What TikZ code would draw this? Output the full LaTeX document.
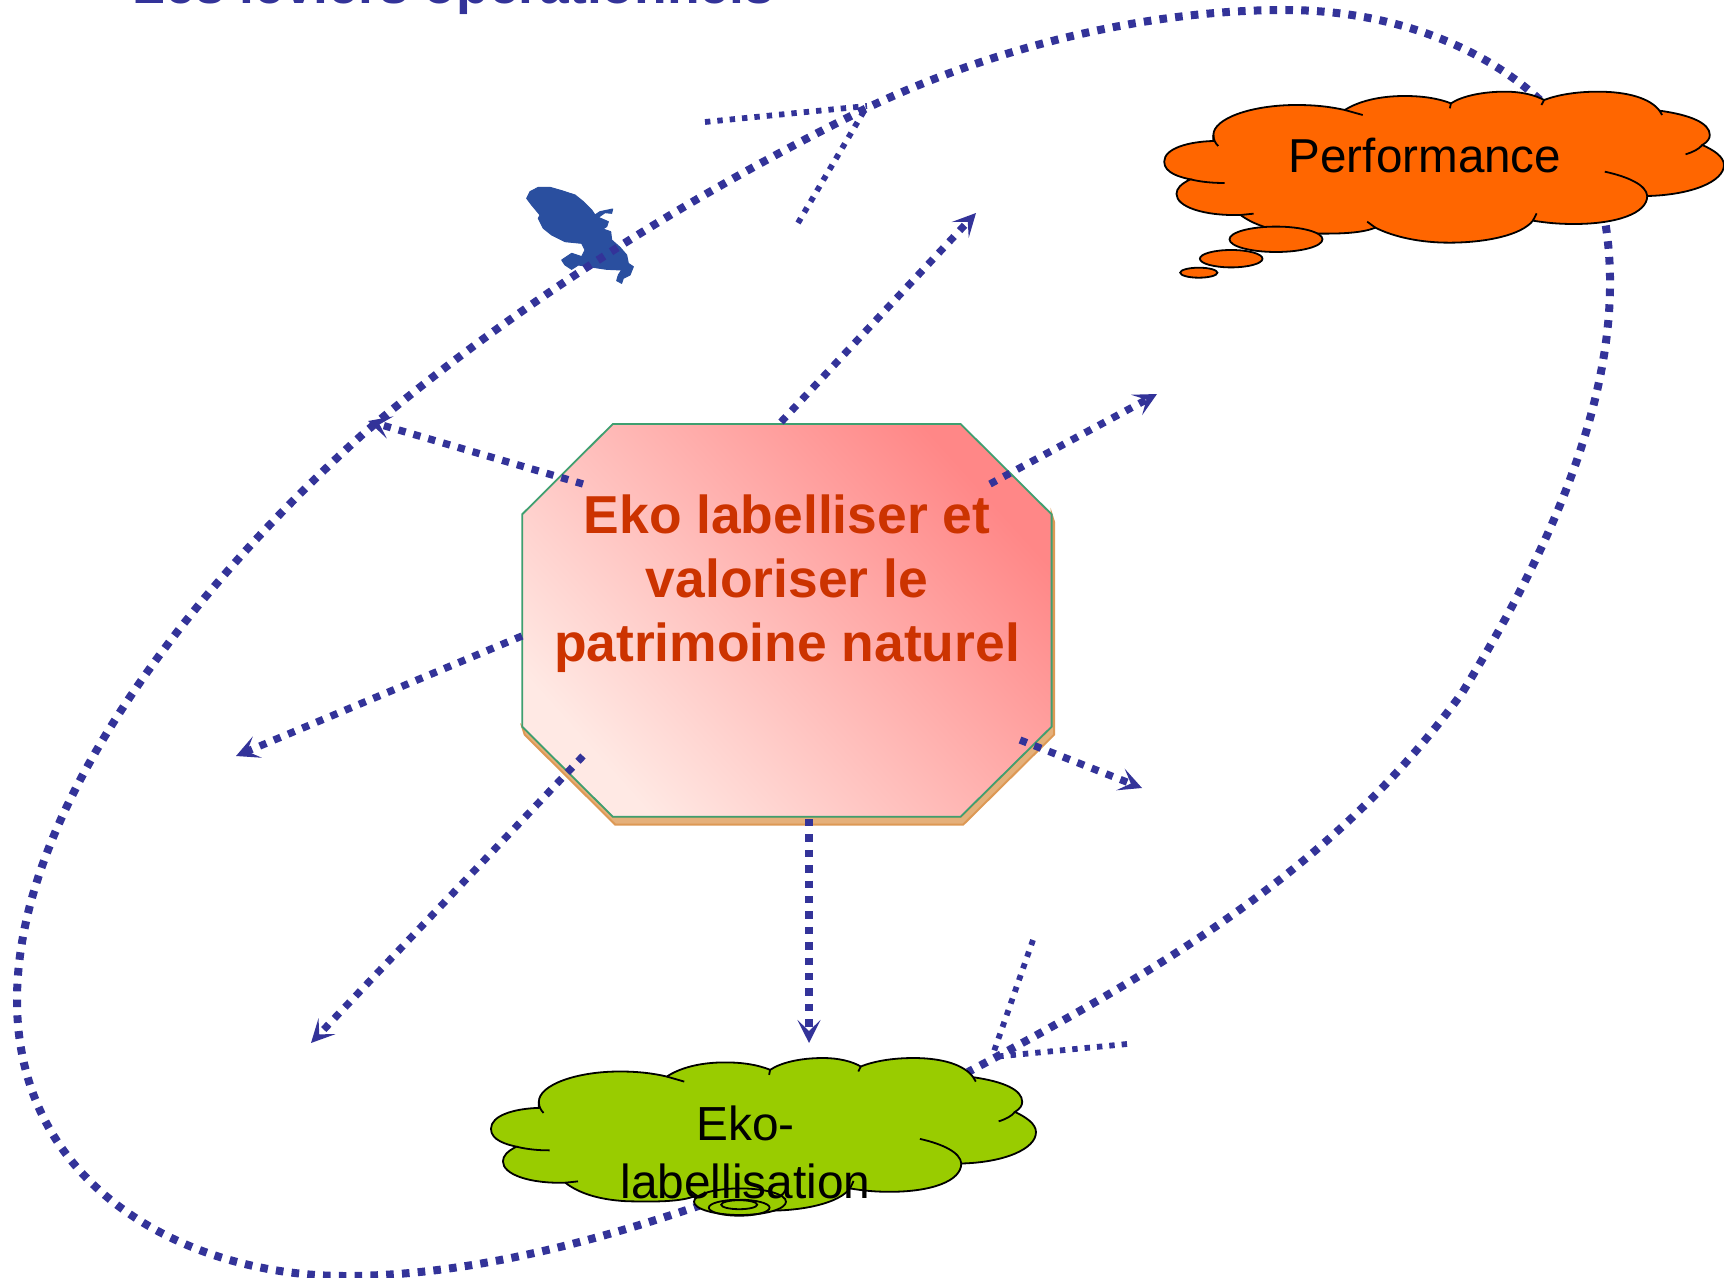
\documentclass[tikz,border=0pt]{standalone}
\usepackage{fontspec}
\setmainfont{Liberation Sans}
\usetikzlibrary{arrows.meta}
\definecolor{navyline}{HTML}{333399}
\definecolor{perforange}{HTML}{FF6600}
\definecolor{ekogreen}{HTML}{99CC00}
\definecolor{redtext}{HTML}{CC3300}
\definecolor{islandblue}{HTML}{2A4F9F}
\definecolor{octaedge}{HTML}{3F9F70}
\definecolor{shadowfill}{HTML}{E5B07A}
\definecolor{shadowedge}{HTML}{DD9955}
\definecolor{gradlow}{HTML}{FFE9E4}
\definecolor{gradhigh}{HTML}{FF8787}
\tikzset{
  curveline/.style={draw=navyline,line width=4pt,dash pattern=on 3.8pt off 4.1pt},
  thinline/.style={draw=navyline,line width=2.9pt,dash pattern=on 2.7pt off 3.5pt},
  arrowline/.style={draw=navyline,line width=3.65pt,dash pattern=on 3.65pt off 4.05pt,
    -{Stealth[length=11.5pt,width=11.5pt,inset=5.5pt,fill=navyline]}},
  cloudedge/.style={draw=black,line width=0.9pt}
}
\newcommand{\cloudoutline}[1]{%
  \path[fill=#1,cloudedge] (197,243)
    .. controls (130,245) and (65,265) .. (65,305)
    .. controls (65,340) and (110,352) .. (135,358)
    .. controls (110,372) and (98,385) .. (98,402)
    .. controls (98,440) and (170,468) .. (270,465)
    .. controls (300,490) and (350,515) .. (440,520)
    .. controls (520,522) and (590,522) .. (632,503)
    .. controls (680,530) and (750,548) .. (830,548)
    .. controls (930,548) and (1025,525) .. (1055,482)
    .. controls (1090,488) and (1120,492) .. (1165,492)
    .. controls (1280,492) and (1362,460) .. (1362,408)
    .. controls (1480,405) and (1568,365) .. (1568,315)
    .. controls (1568,290) and (1540,270) .. (1510,255)
    .. controls (1525,245) and (1530,235) .. (1530,225)
    .. controls (1530,190) and (1480,165) .. (1395,152)
    .. controls (1370,115) and (1310,95) .. (1230,95)
    .. controls (1170,95) and (1120,105) .. (1085,120)
    .. controls (1060,105) and (1025,95) .. (980,95)
    .. controls (920,95) and (865,108) .. (835,130)
    .. controls (800,115) and (760,108) .. (710,108)
    .. controls (640,108) and (585,125) .. (550,150)
    .. controls (510,140) and (470,135) .. (420,135)
    .. controls (300,135) and (197,175) .. (197,225)
    -- cycle;
  \path[cloudedge]
    (197,225) .. controls (197,240) and (203,250) .. (210,258)
    (135,358) .. controls (165,366) and (195,369) .. (227,369)
    (270,465) -- (305,461)
    (632,503) -- (610,485)
    (1055,482) -- (1065,460)
    (1362,408) .. controls (1360,375) and (1310,350) .. (1248,335)
    (1510,255) .. controls (1500,268) and (1485,276) .. (1465,283)
    (1395,152) -- (1402,165)
    (1085,120) -- (1078,135)
    (835,130) -- (832,145)
    (550,150) -- (598,165);
}
\begin{document}
\begin{tikzpicture}[x=0.5pt,y=-0.5pt]
\clip (0,0) rectangle (1724,1278);
\fill[white] (0,0) rectangle (1724,1278);

% title
\node[anchor=base,inner sep=0pt,text=navyline,font=\fontsize{26.7}{32}\selectfont\bfseries] (title) at (453.5,4) {Les leviers opérationnels};

% island
\begin{scope}[shift={(500,160)},x=0.16667pt,y=-0.16667pt]
\fill[islandblue,draw=islandblue,line width=0.5pt,line join=round]
 (80,115)--(90,95)--(115,82)--(150,82)--(185,92)--(225,105)--(250,125)--(275,150)--(285,165)--(300,155)--(338,147)--(335,160)--(315,158)--(295,172)--(325,185)--(320,200)--(308,207)--(332,215)--(335,240)--(360,262)--(380,285)--(385,310)--(400,320)--(390,345)--(370,355)--(365,370)--(350,362)--(355,345)--(365,330)--(320,328)--(280,322)--(235,315)--(215,328)--(195,315)--(185,300)--(215,280)--(245,290)--(255,270)--(245,250)--(195,245)--(155,225)--(130,205)--(115,175)--(120,165)--(95,135)--cycle;
\end{scope}

% named free ends
\coordinate (tipA) at (867,106);
\coordinate (thinA1) at (705,122);
\coordinate (thinA2) at (798,223);
\coordinate (tipB) at (992,1057);
\coordinate (thinB1) at (1127,1044);
\coordinate (thinB2) at (1033,940);
\coordinate (startA) at (1540,100);
\coordinate (endA) at (710,1202);
\coordinate (startB) at (1603,210);
\coordinate (endB) at (968,1072);

% large curves
\draw[curveline] (startA)
  .. controls (1475,40) and (1380,10) .. (1285,10)
  .. controls (1150,10) and (1000,45) .. (869,107)
  .. controls (700,190) and (520,300) .. (363,434)
  .. controls (190,590) and (17,810) .. (17,1000)
  .. controls (17,1190) and (190,1276) .. (345,1276)
  .. controls (470,1276) and (600,1240) .. (endA);
\draw[curveline] (startB)
  .. controls (1625,320) and (1600,470) .. (1462,693)
  .. controls (1340,860) and (1180,960) .. (endB);
\draw[thinline] (thinA1) -- (tipA);
\draw[thinline] (thinA2) -- (tipA);
\draw[thinline] (thinB1) -- (tipB);
\draw[thinline] (thinB2) -- (tipB);

% octagon
\path[fill=shadowfill,draw=shadowedge,line width=1pt] (615.3,824.7) -- (963.1,824.7) -- (1054.1,734.7) -- (1054.1,522.3) -- (1051.6,514.3) -- (1051.6,726.7) -- (960.6,816.7) -- (612.8,816.7) -- (522.2,726.7) -- (524.7,734.7) -- cycle;
\shade[shading=axis,top color=gradhigh,bottom color=gradlow,shading angle=-48,draw=octaedge,line width=0.9pt]
 (612.8,424) -- (960.6,424) -- (1051.6,514.3) -- (1051.6,726.7) -- (960.6,816.7) -- (612.8,816.7) -- (522.2,726.7) -- (522.2,514.3) -- cycle;
\coordinate (o1) at (781,422);
\coordinate (o2) at (990,484);
\coordinate (o3) at (583,484);
\coordinate (o4) at (522,636);
\coordinate (o5) at (583,756);
\coordinate (o6) at (809,819);
\coordinate (o7) at (1020,740);
\coordinate (e1) at (976,213);
\coordinate (e2) at (1157,394);
\coordinate (e3) at (368,421);
\coordinate (e4) at (236,756);
\coordinate (e5) at (311,1043);
\coordinate (e6) at (809,1043);
\coordinate (e7) at (1142,788);
\foreach \a/\b in {o1/e1,o2/e2,o3/e3,o4/e4,o5/e5,o6/e6,o7/e7}{\draw[arrowline] (\a) -- (\b);}

\node[align=center,inner sep=0pt,text=redtext,font=\fontsize{26.7}{32}\selectfont\bfseries] (main) at (787,584) {Eko labelliser et\\valoriser le\\patrimoine naturel};

% performance cloud
\begin{scope}[shift={(1140,60)},x=0.1862pt,y=-0.16667pt]
\cloudoutline{perforange}
\end{scope}
\path[fill=perforange,draw=black,line width=0.9pt] (1276,239.3) ellipse [x radius=23.25pt,y radius=6.35pt];
\path[fill=perforange,draw=black,line width=0.9pt] (1231.2,258.7) ellipse [x radius=15.65pt,y radius=4.35pt];
\path[fill=perforange,draw=black,line width=0.9pt] (1198.8,272.7) ellipse [x radius=9.3pt,y radius=2.5pt];
\node[anchor=base,inner sep=0pt,font=\fontsize{23.8}{28}\selectfont] (perf) at (1425,172.7) {Performance};

% green cloud
\begin{scope}[shift={(467.4,1026)},x=0.1813pt,y=-0.1685pt]
\cloudoutline{ekogreen}
\end{scope}
\path[fill=ekogreen,draw=black,line width=0.9pt] (740,1201.7) ellipse [x radius=23pt,y radius=6.65pt];
\path[draw=black,line width=0.9pt] (739.2,1207.7) ellipse [x radius=15.2pt,y radius=4pt];
\path[draw=black,line width=0.9pt] (739.2,1204.7) ellipse [x radius=9pt,y radius=2.25pt];
\node[align=center,inner sep=0pt,font=\fontsize{23.9}{29}\selectfont] (eko) at (745.5,1152) {Eko-\\labellisation};
\end{tikzpicture}
\end{document}
